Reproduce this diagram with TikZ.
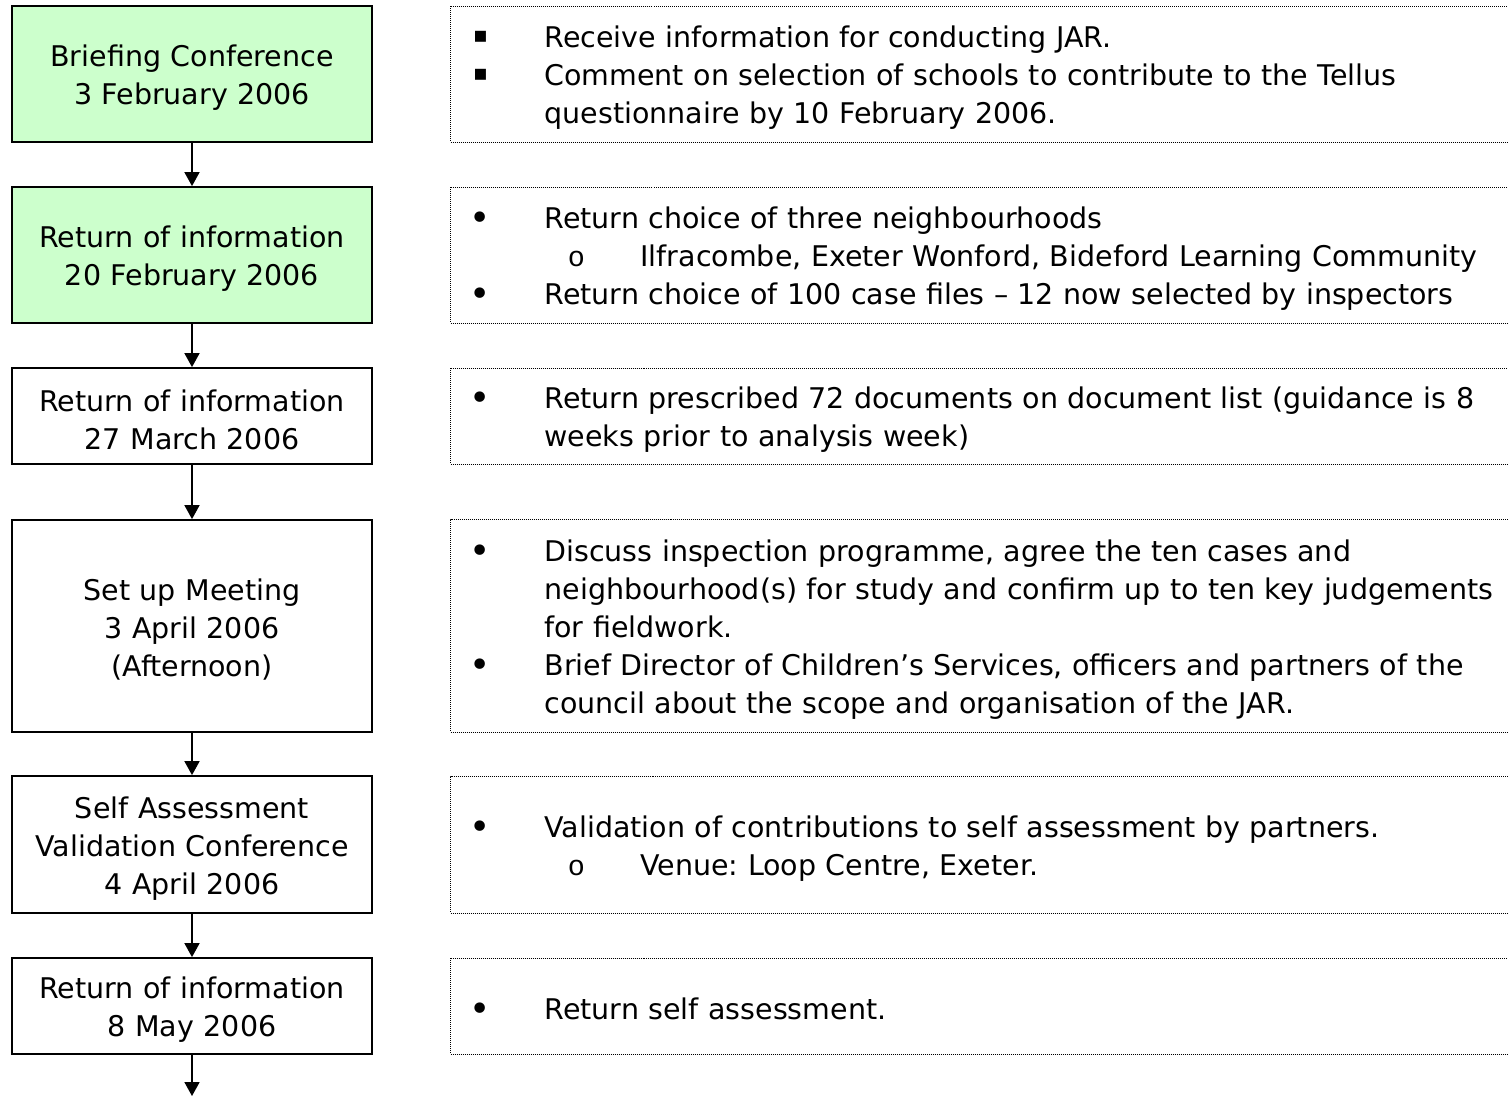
\documentclass[tikz,border=0pt]{standalone}
\usepackage{fontspec}
\setmainfont{DejaVu Sans}
\newfontfamily\monofont{Liberation Mono}
\usetikzlibrary{arrows.meta}
\frenchspacing

\definecolor{stagegreen}{HTML}{CCFFCC}

\newcommand{\itemsq}[1]{\makebox[60pt]{\raisebox{5pt}{\fontsize{22}{38}\selectfont▪}}\hspace{34pt}#1}
\newcommand{\itemone}[1]{\makebox[60pt]{\raisebox{-2pt}{\fontsize{36}{38}\selectfont\textbullet}}\hspace{34pt}#1}
\newcommand{\itemtwo}[1]{\hspace*{96pt}\makebox[60pt]{\monofont o}\hspace{34pt}#1}
\newcommand{\cont}{\hspace*{94pt}}

\begin{document}
\begin{tikzpicture}[x=1pt, y=-1pt,
    font=\fontsize{28.5}{38}\selectfont,
    every node/.append style={execute at begin node={\rule{0pt}{29pt}}},
    stage/.style={draw, line width=1.8pt, minimum width=360pt, text width=360pt, inner sep=0pt, align=center},
    notes/.style={draw, dash pattern=on 1pt off 1pt, line width=1pt, minimum width=1100pt,
                  text width=1100pt, inner sep=0pt, align=left, anchor=west},
    flow/.style={line width=1.8pt, -{Triangle[length=14pt, width=15pt]}}]

	\useasboundingbox (0,0) rectangle (1508,1096);

	% stages
	\node[stage, fill=stagegreen, minimum height=136pt] (s1) at (192,74)    {Briefing Conference\\3 February 2006};
	\node[stage, fill=stagegreen, minimum height=136pt] (s2) at (192,255)   {Return of information\\20 February 2006};
	\node[stage, minimum height=96pt]                   (s3) at (192,416)   {Return of information\\27 March 2006};
	\node[stage, minimum height=212pt]                  (s4) at (192,626)   {Set up Meeting\\3 April 2006\\(Afternoon)};
	\node[stage, minimum height=137pt]                  (s5) at (192,844.5) {Self Assessment\\Validation Conference\\4 April 2006};
	\node[stage, minimum height=96pt]                   (s6) at (192,1006)  {Return of information\\8 May 2006};
	\coordinate (end) at (192,1096);

	% notes beside each stage
	\node[notes, minimum height=136pt] (n1) at (450,74) {%
		\itemsq{Receive information for conducting JAR.}\\
		\itemsq{Comment on selection of schools to contribute to the Tellus}\\
		\cont questionnaire by 10 February 2006.};
	\node[notes, minimum height=136pt] (n2) at (450,255) {%
		\itemone{Return choice of three neighbourhoods}\\
		\itemtwo{Ilfracombe, Exeter Wonford, Bideford Learning Community}\\
		\itemone{Return choice of 100 case files – 12 now selected by inspectors}};
	\node[notes, minimum height=96pt] (n3) at (450,416) {%
		\itemone{Return prescribed 72 documents on document list (guidance is 8}\\
		\cont weeks prior to analysis week)};
	\node[notes, minimum height=213pt] (n4) at (450,625.5) {%
		\itemone{Discuss inspection programme, agree the ten cases and}\\
		\cont neighbourhood(s) for study and confirm up to ten key judgements\\
		\cont for fieldwork.\\
		\itemone{Brief Director of Children’s Services, officers and partners of the}\\
		\cont council about the scope and organisation of the JAR.};
	\node[notes, minimum height=137pt] (n5) at (450,844.5) {%
		\itemone{Validation of contributions to self assessment by partners.}\\
		\itemtwo{Venue: Loop Centre, Exeter.}};
	\node[notes, minimum height=96pt] (n6) at (450,1006) {%
		\itemone{Return self assessment.}};

	\def\links {s1/s2, s2/s3, s3/s4, s4/s5, s5/s6, s6/end}  % flow between stages
	\foreach \u/\v in \links
	{	\draw[flow] (\u) -- (\v);}
\end{tikzpicture}
\end{document}
